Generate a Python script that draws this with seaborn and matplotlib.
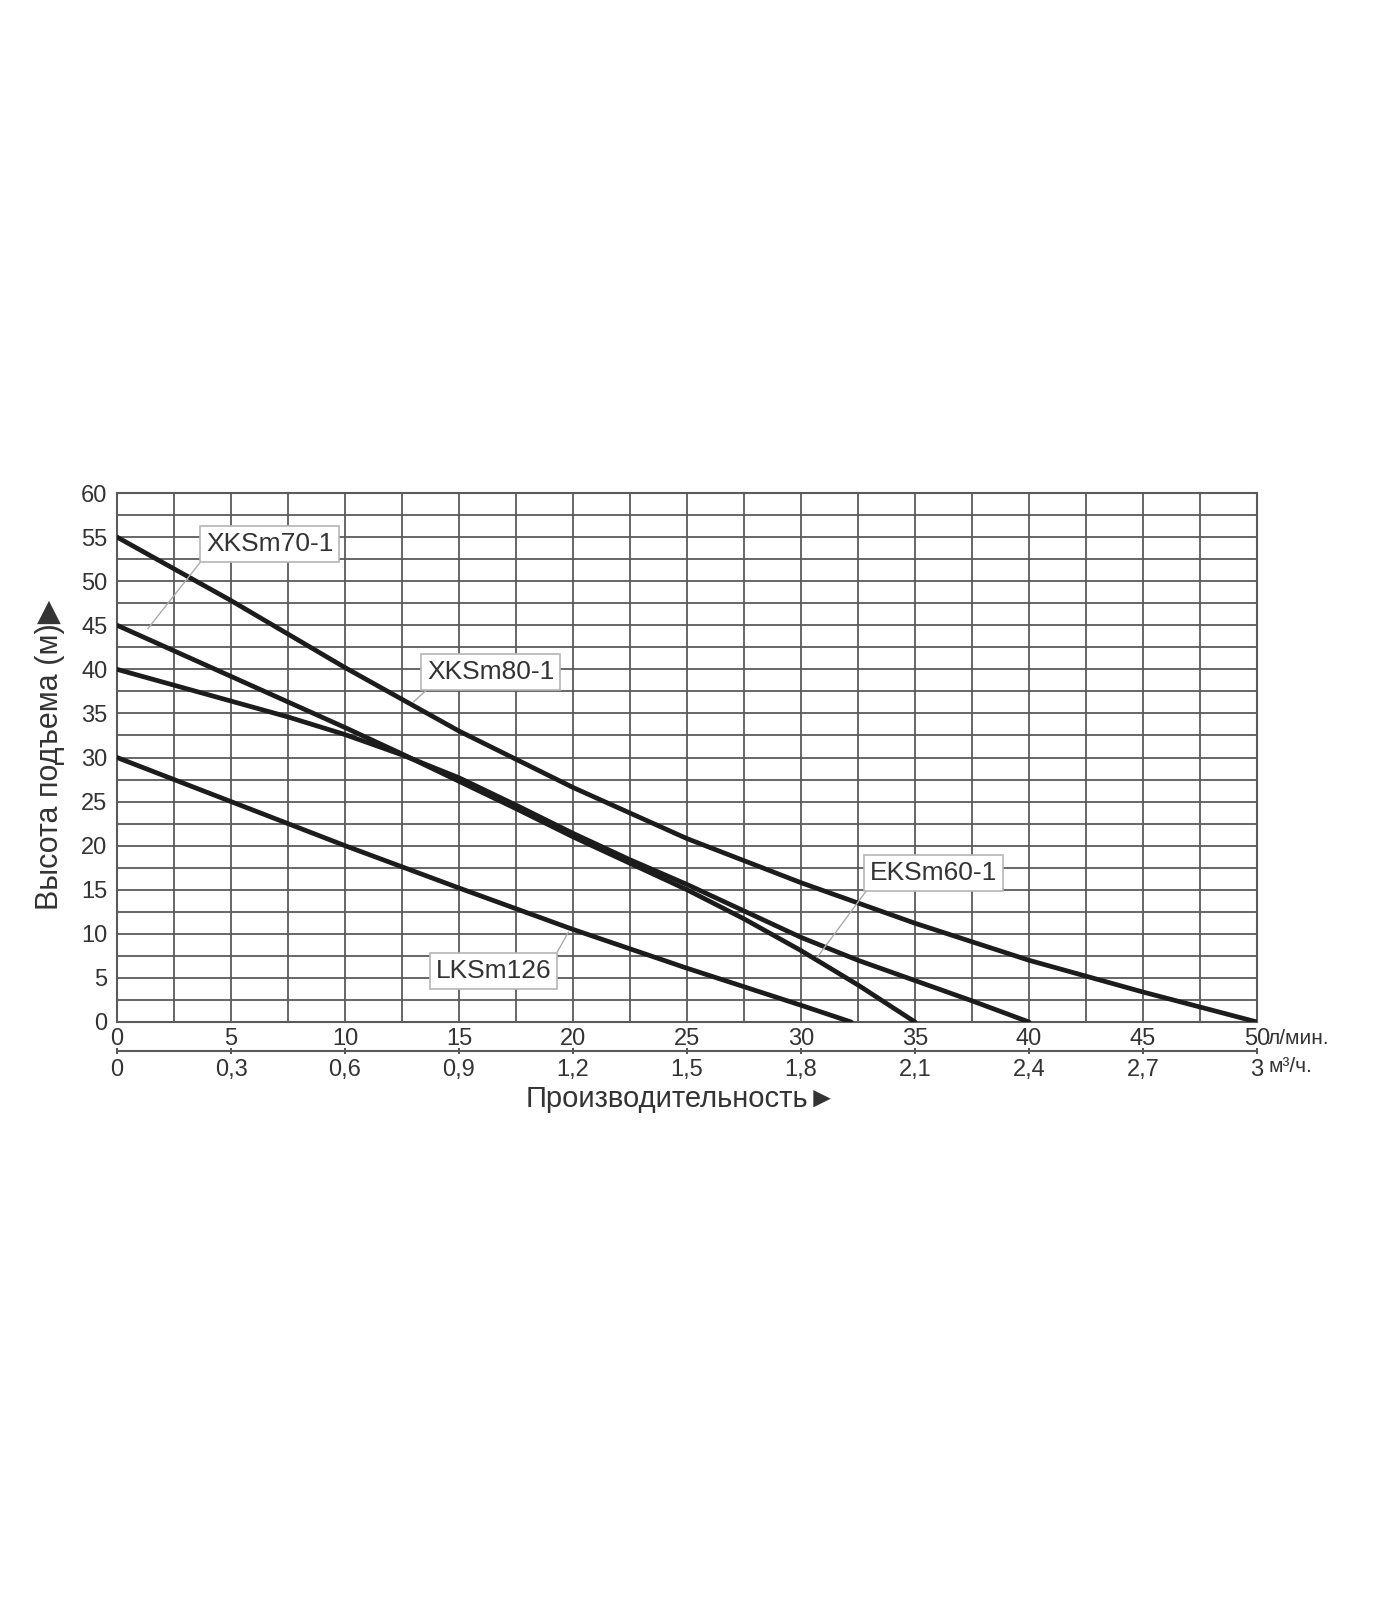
import numpy as np
import pandas as pd
import matplotlib
matplotlib.use("Agg")
import matplotlib.pyplot as plt
from matplotlib.ticker import MultipleLocator, FixedLocator
import seaborn as sns

# ---- data (flow in l/min, head in m) ----
x_xksm80 = [0, 5, 10, 15, 20, 25, 30, 35, 40, 45, 50]
y_xksm80 = [55, 47.8, 40.2, 33.0, 26.6, 20.8, 15.8, 11.2, 7.0, 3.4, 0]

x_xksm70 = [0, 2.5, 5, 7.5, 10, 12.5, 15, 17.5, 20, 22.5, 25, 27.5, 30, 32.5, 35]
y_xksm70 = [45, 42.1, 39.2, 36.3, 33.4, 30.4, 27.3, 24.2, 21.0, 18.0, 15.0, 11.7, 8.1, 4.2, 0]

x_eksm60 = [0, 2.5, 5, 7.5, 10, 12.5, 15, 17.5, 20, 22.5, 25, 27.5, 30, 32.5, 35, 37.5, 40]
y_eksm60 = [40, 38.2, 36.4, 34.6, 32.6, 30.3, 27.7, 24.6, 21.4, 18.4, 15.6, 12.6, 9.6, 7.0, 4.7, 2.4, 0]

x_lksm126 = [0, 5, 10, 15, 20, 25, 30, 32.2]
y_lksm126 = [30, 25, 20, 15.2, 10.5, 6.1, 1.9, 0]

series_names = ["XKSm80-1", "XKSm70-1", "EKSm60-1", "LKSm126"]

x_ticks_lmin = [0, 5, 10, 15, 20, 25, 30, 35, 40, 45, 50]
x_ticks_m3h = ["0", "0,3", "0,6", "0,9", "1,2", "1,5", "1,8", "2,1", "2,4", "2,7", "3"]
y_ticks = [0, 5, 10, 15, 20, 25, 30, 35, 40, 45, 50, 55, 60]

# label box centres (data coords) and leader lines (from, to)
label_pos = {"XKSm70-1": (6.7, 54.2), "XKSm80-1": (16.4, 39.7),
             "EKSm60-1": (35.8, 16.9), "LKSm126": (16.5, 5.8)}
leader = {"XKSm70-1": ((3.7, 52.3), (1.35, 44.6)),
          "XKSm80-1": ((13.6, 37.7), (13.0, 36.3)),
          "EKSm60-1": ((32.9, 15.0), (30.7, 7.3)),
          "LKSm126": ((19.3, 7.9), (19.8, 10.2))}

frames = []
for name, xs, ys in zip(series_names,
                        [x_xksm80, x_xksm70, x_eksm60, x_lksm126],
                        [y_xksm80, y_xksm70, y_eksm60, y_lksm126]):
    frames.append(pd.DataFrame({"flow": xs, "head": ys, "model": name}))
df = pd.concat(frames, ignore_index=True)

sns.set_style("white")
plt.rcParams["font.family"] = ["Liberation Sans", "DejaVu Sans"]

fig = plt.figure(figsize=(14, 16), dpi=100)
ax = fig.add_axes([117 / 1400, 1 - 1022 / 1600, 1140 / 1400, 529 / 1600])

grid_col = "#5a5a5a"
text_col = "#333333"

sns.lineplot(data=df, x="flow", y="head", units="model", estimator=None,
             color="#1c1c1c", lw=3.4, ax=ax, legend=False, sort=False, zorder=3)

ax.set_xlim(0, 50)
ax.set_ylim(0, 60)
ax.xaxis.set_major_locator(FixedLocator(x_ticks_lmin))
ax.xaxis.set_minor_locator(MultipleLocator(2.5))
ax.yaxis.set_major_locator(FixedLocator(y_ticks))
ax.yaxis.set_minor_locator(MultipleLocator(2.5))
ax.grid(True, which="both", color=grid_col, lw=1.3, zorder=0)
ax.set_axisbelow(True)
for s in ax.spines.values():
    s.set_color(grid_col)
    s.set_linewidth(1.5)
ax.tick_params(axis="both", which="both", length=0, labelsize=17, colors=text_col)
ax.tick_params(axis="y", pad=7)
ax.tick_params(axis="x", pad=4)
ax.set_xticklabels([str(v) for v in x_ticks_lmin])
ax.set_yticklabels([str(v) for v in y_ticks])
ax.set_xlabel("")
ax.set_ylabel("Высота подъема (м)▶", fontsize=22, color=text_col)
ax.yaxis.set_label_coords(-0.046, 0.505)

# secondary axis in m3/h
sec = ax.secondary_xaxis(-0.055, functions=(lambda v: v * 0.06, lambda v: v / 0.06))
sec.xaxis.set_major_locator(FixedLocator([i * 0.3 for i in range(11)]))
sec.set_xticklabels(x_ticks_m3h)
sec.tick_params(axis="x", length=5, direction="inout", width=1.2, colors=text_col,
                labelsize=17, pad=3)
sec.spines["bottom"].set_color(grid_col)
sec.spines["bottom"].set_linewidth(1.5)

# unit labels
ax.annotate("л/мин.", xy=(50, 0), xytext=(11, -17), textcoords="offset pixels",
            ha="left", va="center", fontsize=15, color=text_col, annotation_clip=False)
ax.annotate("м³/ч.", xy=(50, 0), xytext=(12, -45), textcoords="offset pixels",
            ha="left", va="center", fontsize=15, color=text_col, annotation_clip=False)

ax.text(0.495, -0.146, "Производительность►", transform=ax.transAxes,
        ha="center", va="center", fontsize=21, color=text_col)

# labels with leader lines
for name in series_names:
    (x0, y0), (x1, y1) = leader[name]
    ax.plot([x0, x1], [y0, y1], color="#aaaaaa", lw=1.0, zorder=4)
    lx, ly = label_pos[name]
    ax.text(lx, ly, name, ha="center", va="center", fontsize=19, color=text_col,
            zorder=5,
            bbox=dict(boxstyle="square,pad=0.22", fc="white", ec="#b5b5b5", lw=1.2))

fig.savefig("out.png", dpi=100, facecolor="white")
